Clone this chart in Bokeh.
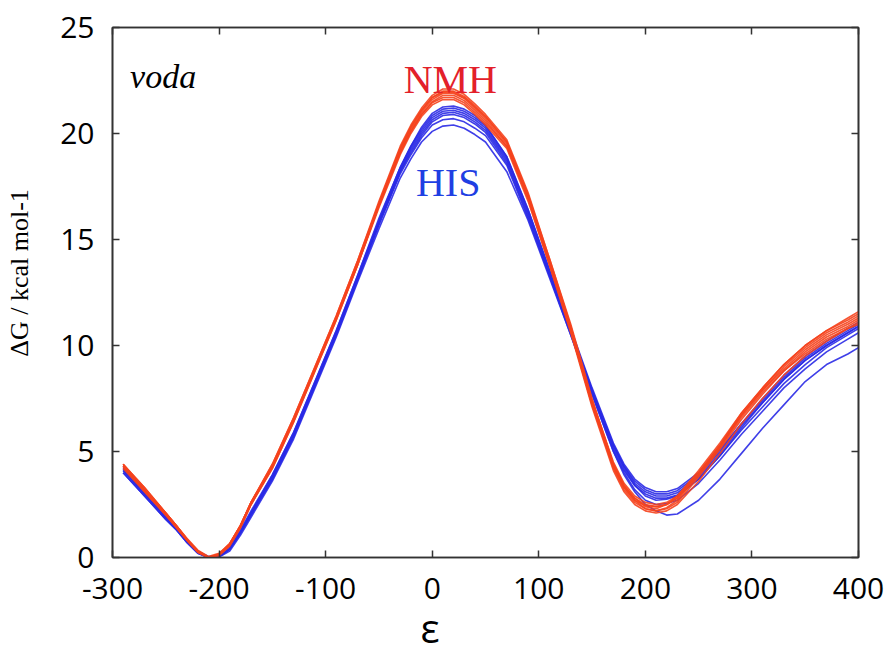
from bokeh.plotting import figure
from bokeh.models import Range1d, LinearAxis, FixedTicker, Label, Title
from bokeh.embed import file_html
from bokeh.resources import INLINE

# ---------------- data ----------------
eps = [-290, -270, -250, -240, -230, -220, -210, -200, -190, -180, -170, -150, -130, -110, -90,
       -70, -50, -30, -20, -10, 0, 10, 20, 30, 40, 50, 70, 90, 110, 130, 150, 170, 180, 190,
       200, 210, 220, 230, 250, 270, 290, 310, 330, 350, 370, 390, 400]

nmh_1 = [4.4, 3.3, 2.1, 1.5, 0.85, 0.3, 0.0, 0.15, 0.65, 1.5, 2.6, 4.4, 6.6, 9.0, 11.4, 14.0, 16.8, 19.4, 20.4, 21.2, 21.8, 22.1, 22.1, 21.85, 21.4, 20.9, 19.7, 17.2, 14.1, 10.9, 7.4, 4.4, 3.4, 2.8, 2.4, 2.3, 2.5, 2.9, 4.1, 5.4, 6.8, 8.0, 9.1, 10.0, 10.7, 11.3, 11.6]
nmh_2 = [4.3, 3.2, 2.1, 1.5, 0.85, 0.3, 0.0, 0.15, 0.6, 1.45, 2.5, 4.3, 6.5, 8.9, 11.3, 13.9, 16.7, 19.3, 20.3, 21.1, 21.7, 22.0, 22.0, 21.75, 21.3, 20.8, 19.6, 17.1, 14.0, 10.8, 7.3, 4.3, 3.3, 2.7, 2.3, 2.2, 2.35, 2.7, 3.9, 5.2, 6.7, 7.9, 9.0, 9.9, 10.6, 11.1, 11.4]
nmh_3 = [4.3, 3.2, 2.0, 1.45, 0.8, 0.3, 0.0, 0.15, 0.65, 1.5, 2.6, 4.3, 6.5, 8.9, 11.3, 13.9, 16.6, 19.2, 20.2, 21.0, 21.6, 21.9, 21.9, 21.65, 21.2, 20.7, 19.5, 17.0, 13.9, 10.7, 7.2, 4.2, 3.2, 2.6, 2.3, 2.2, 2.3, 2.6, 3.8, 5.1, 6.5, 7.7, 8.8, 9.7, 10.4, 10.9, 11.2]
nmh_4 = [4.2, 3.1, 2.0, 1.4, 0.8, 0.25, 0.0, 0.1, 0.55, 1.4, 2.5, 4.2, 6.4, 8.8, 11.2, 13.8, 16.6, 19.1, 20.1, 20.9, 21.5, 21.8, 21.8, 21.55, 21.1, 20.6, 19.4, 16.9, 13.8, 10.6, 7.1, 4.1, 3.1, 2.5, 2.2, 2.1, 2.2, 2.5, 3.6, 4.9, 6.3, 7.5, 8.6, 9.5, 10.2, 10.8, 11.0]
nmh_5 = [4.4, 3.2, 2.1, 1.5, 0.9, 0.35, 0.05, 0.2, 0.65, 1.5, 2.6, 4.3, 6.5, 8.9, 11.3, 13.8, 16.6, 19.1, 20.1, 20.9, 21.45, 21.7, 21.7, 21.45, 21.0, 20.5, 19.4, 17.0, 14.0, 10.9, 7.4, 4.5, 3.5, 2.9, 2.6, 2.5, 2.6, 2.9, 4.0, 5.3, 6.7, 7.9, 8.9, 9.8, 10.5, 11.0, 11.3]
nmh_6 = [4.3, 3.1, 2.0, 1.4, 0.8, 0.25, 0.0, 0.1, 0.55, 1.4, 2.5, 4.2, 6.4, 8.8, 11.2, 13.8, 16.5, 19.0, 20.0, 20.8, 21.35, 21.6, 21.6, 21.35, 20.9, 20.4, 19.3, 16.8, 13.8, 10.7, 7.2, 4.3, 3.3, 2.7, 2.45, 2.4, 2.5, 2.8, 3.9, 5.2, 6.6, 7.8, 8.8, 9.6, 10.3, 10.8, 11.1]
nmh_7 = [4.4, 3.3, 2.1, 1.5, 0.85, 0.3, 0.0, 0.15, 0.65, 1.5, 2.6, 4.4, 6.6, 9.0, 11.4, 14.0, 16.7, 19.3, 20.3, 21.1, 21.7, 21.95, 21.95, 21.7, 21.25, 20.8, 19.6, 17.1, 14.1, 11.0, 7.5, 4.4, 3.4, 2.8, 2.5, 2.4, 2.5, 2.8, 4.0, 5.3, 6.8, 8.0, 9.1, 10.0, 10.7, 11.2, 11.5]

his_1 = [4.2, 3.1, 1.9, 1.35, 0.75, 0.25, 0.0, 0.05, 0.4, 1.2, 2.1, 3.9, 5.9, 8.3, 10.7, 13.3, 15.9, 18.4, 19.4, 20.3, 20.95, 21.25, 21.3, 21.15, 20.85, 20.4, 18.9, 16.4, 13.6, 10.8, 8.0, 5.4, 4.4, 3.7, 3.3, 3.1, 3.1, 3.25, 4.0, 5.1, 6.3, 7.4, 8.5, 9.4, 10.1, 10.7, 11.0]
his_2 = [4.1, 3.0, 1.9, 1.35, 0.75, 0.25, 0.0, 0.05, 0.4, 1.2, 2.1, 3.8, 5.8, 8.2, 10.6, 13.2, 15.8, 18.3, 19.3, 20.1, 20.75, 21.05, 21.1, 20.95, 20.65, 20.25, 18.8, 16.3, 13.5, 10.7, 7.9, 5.3, 4.3, 3.5, 3.1, 2.9, 2.9, 3.05, 3.8, 4.9, 6.2, 7.3, 8.4, 9.3, 10.0, 10.6, 10.9]
his_3 = [4.0, 2.9, 1.8, 1.3, 0.7, 0.2, 0.0, 0.05, 0.4, 1.15, 2.0, 3.7, 5.7, 8.1, 10.5, 13.1, 15.7, 18.2, 19.2, 20.0, 20.65, 20.95, 21.0, 20.85, 20.55, 20.15, 18.7, 16.2, 13.4, 10.6, 7.8, 5.1, 4.1, 3.4, 2.9, 2.7, 2.75, 2.9, 3.7, 4.8, 6.0, 7.1, 8.2, 9.1, 9.9, 10.5, 10.8]
his_4 = [4.3, 3.1, 1.9, 1.35, 0.75, 0.25, 0.0, 0.05, 0.4, 1.2, 2.1, 3.8, 5.8, 8.2, 10.6, 13.2, 15.8, 18.2, 19.1, 19.9, 20.55, 20.85, 20.9, 20.75, 20.45, 20.05, 18.6, 16.1, 13.3, 10.5, 7.7, 5.0, 4.0, 3.2, 2.7, 2.5, 2.55, 2.7, 3.5, 4.6, 5.8, 6.9, 8.0, 8.9, 9.7, 10.3, 10.6]
his_5 = [4.1, 3.0, 1.9, 1.35, 0.75, 0.25, 0.0, 0.05, 0.4, 1.15, 2.0, 3.7, 5.7, 8.1, 10.5, 13.1, 15.7, 18.1, 19.0, 19.8, 20.4, 20.65, 20.7, 20.55, 20.25, 19.9, 18.5, 16.0, 13.3, 10.6, 7.8, 5.2, 4.2, 3.4, 3.0, 2.8, 2.8, 2.95, 3.7, 4.8, 6.1, 7.3, 8.4, 9.3, 10.0, 10.6, 10.9]
his_6 = [4.0, 2.9, 1.8, 1.3, 0.7, 0.2, 0.0, 0.02, 0.3, 1.05, 1.9, 3.6, 5.6, 8.0, 10.4, 13.0, 15.5, 17.9, 18.8, 19.6, 20.1, 20.35, 20.4, 20.25, 19.95, 19.6, 18.2, 15.9, 13.2, 10.5, 7.7, 5.0, 3.9, 3.1, 2.5, 2.2, 2.0, 2.05, 2.7, 3.7, 4.9, 6.1, 7.2, 8.3, 9.1, 9.6, 9.9]
his_7 = [4.2, 3.1, 2.0, 1.4, 0.8, 0.3, 0.05, 0.1, 0.5, 1.3, 2.2, 3.9, 5.9, 8.3, 10.7, 13.3, 16.0, 18.4, 19.4, 20.2, 20.85, 21.15, 21.2, 21.05, 20.75, 20.35, 18.9, 16.4, 13.5, 10.7, 7.9, 5.3, 4.3, 3.6, 3.2, 3.0, 3.0, 3.15, 3.9, 5.0, 6.3, 7.5, 8.6, 9.5, 10.2, 10.8, 11.1]

nmh_curves = [nmh_1, nmh_2, nmh_3, nmh_4, nmh_5, nmh_6, nmh_7]
his_curves = [his_1, his_2, his_3, his_4, his_5, his_6, his_7]

x_ticks = [-300, -200, -100, 0, 100, 200, 300, 400]
y_ticks = [0, 5, 10, 15, 20, 25]

x_title = "ε"
y_title = "ΔG / kcal mol-1"

for c in nmh_curves + his_curves:
    assert len(c) == len(eps), len(c)

# ---------------- figure ----------------
p = figure(width=885, height=655, x_range=Range1d(-300, 400), y_range=Range1d(0, 25),
           output_backend="svg", toolbar_location=None,
           min_border_left=112, min_border_right=27, min_border_top=27, min_border_bottom=98)
p.grid.visible = False
p.outline_line_color = "#333333"
p.outline_line_width = 1.6
p.background_fill_color = "white"
p.border_fill_color = "white"

TICK_FONT = "Open Sans"
SERIF = "Liberation Serif"

def style_axis(ax, show_labels=True):
    ax.axis_line_color = "#333333"
    ax.axis_line_width = 1.6
    ax.major_tick_in = 7
    ax.major_tick_out = 0
    ax.major_tick_line_color = "#333333"
    ax.major_tick_line_width = 1.5
    ax.minor_tick_in = 0
    ax.minor_tick_out = 0
    ax.minor_tick_line_color = None
    if show_labels:
        ax.major_label_text_font = TICK_FONT
        ax.major_label_text_font_size = "30px"
        ax.major_label_text_color = "black"
    else:
        ax.major_label_text_font_size = "0px"
        ax.major_label_standoff = 0
        ax.major_label_text_color = None

p.xaxis.ticker = FixedTicker(ticks=x_ticks)
p.yaxis.ticker = FixedTicker(ticks=y_ticks)
style_axis(p.xaxis[0])
style_axis(p.yaxis[0])
p.xaxis.major_label_overrides = {t: str(t) for t in x_ticks}
p.yaxis.major_label_overrides = {t: str(t) for t in y_ticks}
p.xaxis.major_label_standoff = 20
p.yaxis.major_label_standoff = 18

# y title: axis label; leading no-break spaces move the visible text up the axis
p.yaxis.axis_label = "\u00a0" * 6 + y_title
p.yaxis.axis_label_text_font = SERIF
p.yaxis.axis_label_text_font_style = "normal"
p.yaxis.axis_label_text_font_size = "26px"
p.yaxis.axis_label_text_color = "black"
p.yaxis.axis_label_standoff = 23

# mirrored tick axes on top and right
top_ax = LinearAxis(ticker=FixedTicker(ticks=x_ticks))
style_axis(top_ax, show_labels=False)
p.add_layout(top_ax, "above")
right_ax = LinearAxis(ticker=FixedTicker(ticks=y_ticks))
style_axis(right_ax, show_labels=False)
p.add_layout(right_ax, "right")

# x title as a Title (left-aligned so that the offset puts it under eps = 0)
x_title_obj = Title(text=x_title, align="left", vertical_align="top", offset=308, standoff=-4,
                    text_font=TICK_FONT, text_font_style="normal", text_font_size="40px",
                    text_color="black")
p.add_layout(x_title_obj, "below")

# curves
for c in his_curves:
    p.line(eps, c, line_color="#2a2ae6", line_width=1.6, line_alpha=0.9)
for c in nmh_curves:
    p.line(eps, c, line_color="#f5431d", line_width=1.6, line_alpha=0.9)

# annotations inside the frame
p.add_layout(Label(x=-283.5, y=22.7, text="voda", text_font=SERIF,
                   text_font_style="italic", text_font_size="34px", text_color="black",
                   text_align="left", text_baseline="alphabetic"))
p.add_layout(Label(x=17.0, y=22.55, text="NMH", text_font=SERIF,
                   text_font_size="40px", text_color="#e3202a",
                   text_align="center", text_baseline="alphabetic"))
p.add_layout(Label(x=15.0, y=17.7, text="HIS", text_font=SERIF,
                   text_font_size="40px", text_color="#1f3fe3",
                   text_align="center", text_baseline="alphabetic"))

open("out.html", "w").write(file_html(p, INLINE))
